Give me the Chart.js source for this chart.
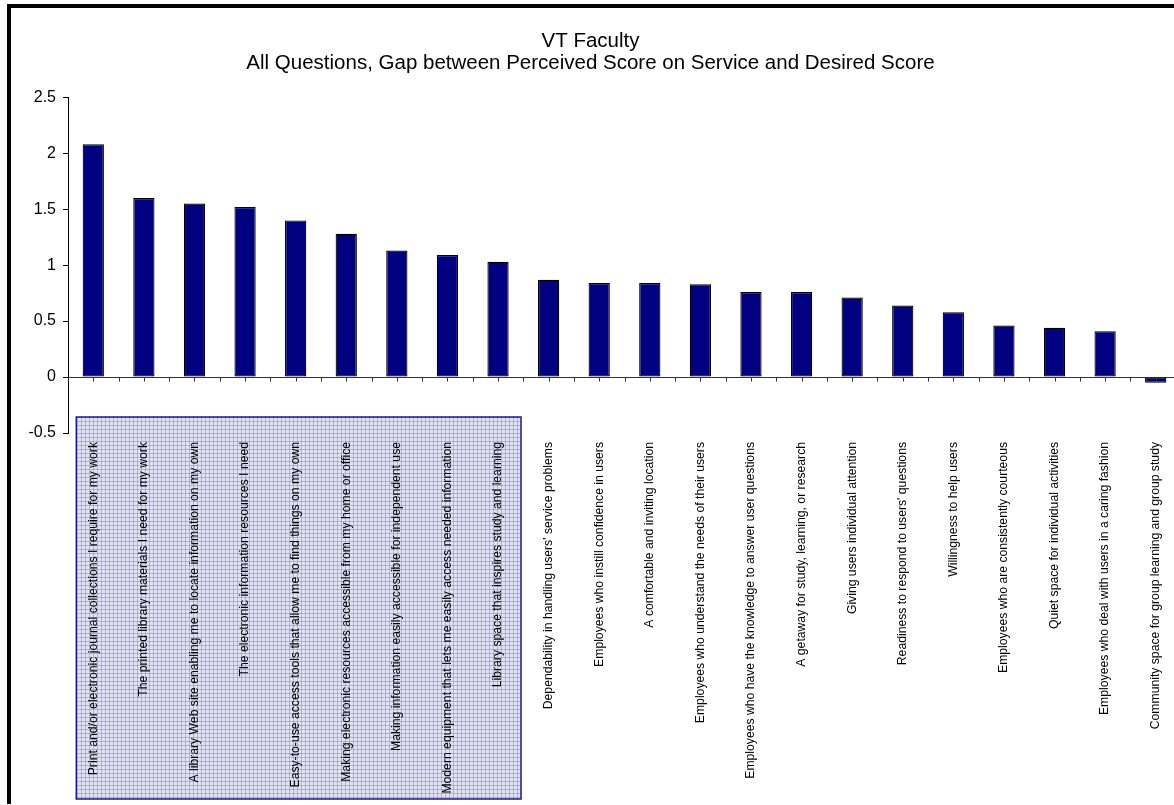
<!DOCTYPE html>
<html lang="en">
  <head>
    <meta charset="UTF-8" />
    <title>VT Faculty - Gap between Perceived and Desired Score</title>
    <script src="https://cdn.jsdelivr.net/npm/chart.js"></script>
    <style>
      html, body { margin: 0; padding: 0; overflow: hidden; background: #fff; }
      #wrap { position: relative; width: 1174px; height: 805px; overflow: hidden; }
      #chart { position: absolute; left: 0; top: 0; }
      #frame {
        position: absolute; left: 7px; top: 4px; width: 1200px; height: 796px;
        border-top: 4px solid #000; border-left: 4px solid #000;
      }
    </style>
  </head>
  <body>
    <div id="wrap">
      <canvas id="chart" width="1190" height="805"></canvas>
      <div id="frame"></div>
    </div>
    <script>
      const titleLines = [
        "VT Faculty",
        "All Questions, Gap between Perceived Score on Service and Desired Score",
      ];
      const questions = [
        "Print and/or electronic journal collections I require for my work",
        "The printed library materials I need for my work",
        "A library Web site enabling me to locate information on my own",
        "The electronic information resources I need",
        "Easy-to-use access tools that allow me to find things on my own",
        "Making electronic resources accessible from my home or office",
        "Making information easily accessible for independent use",
        "Modern equipment that lets me easily access needed information",
        "Library space that inspires study and learning",
        "Dependability in handling users' service problems",
        "Employees who instill confidence in users",
        "A comfortable and inviting location",
        "Employees who understand the needs of their users",
        "Employees who have the knowledge to answer user questions",
        "A getaway for study, learning, or research",
        "Giving users individual attention",
        "Readiness to respond to users' questions",
        "Willingness to help users",
        "Employees who are consistently courteous",
        "Quiet space for individual activities",
        "Employees who deal with users in a caring fashion",
        "Community space for group learning and group study",
      ];
      const gapScores = [
        2.08, 1.6, 1.55, 1.52, 1.4, 1.28, 1.13, 1.09, 1.03, 0.87, 0.84, 0.84,
        0.83, 0.76, 0.76, 0.71, 0.64, 0.58, 0.46, 0.44, 0.41, -0.05,
      ];
      // first 9 questions are highlighted with the hatched box
      const highlighted = 9;

      Chart.defaults.font.family = 'Arial, "Liberation Sans", sans-serif';
      Chart.defaults.color = "#000";

      // small lavender hatch tile for the highlight box
      function makeHatch(ctx) {
        const t = document.createElement("canvas");
        t.width = 4;
        t.height = 4;
        const c = t.getContext("2d");
        c.fillStyle = "#e2e2f7";
        c.fillRect(0, 0, 4, 4);
        c.fillStyle = "#b0b0ea";
        c.fillRect(0, 1, 4, 1);
        c.fillRect(1, 0, 1, 4);
        c.fillStyle = "#9696dc";
        c.fillRect(1, 1, 1, 1);
        return ctx.createPattern(t, "repeat");
      }

      const highlightBox = {
        id: "highlightBox",
        beforeDraw(chart) {
          const { ctx, scales, chartArea } = chart;
          const x = scales.x;
          const left = x.getPixelForValue(0) - 17;
          const right = x.getPixelForValue(highlighted - 1) + 23;
          const top = chartArea.bottom - 16;
          const bottom = chart.height - 6;
          ctx.save();
          ctx.fillStyle = makeHatch(ctx);
          ctx.fillRect(left, top, right - left, bottom - top);
          ctx.strokeStyle = "#1a1a8c";
          ctx.lineWidth = 1.5;
          ctx.strokeRect(left, top, right - left, bottom - top);
          ctx.restore();
        },
      };

      // tick marks hanging under the zero line
      const zeroTicks = {
        id: "zeroTicks",
        afterDatasetsDraw(chart) {
          const { ctx, scales } = chart;
          const x = scales.x;
          const y0 = Math.round(scales.y.getPixelForValue(0)) + 0.5;
          const step = x.getPixelForValue(1) - x.getPixelForValue(0);
          ctx.save();
          ctx.strokeStyle = "#333";
          ctx.lineWidth = 1;
          ctx.beginPath();
          for (let i = 0; i < questions.length; i++) {
            const cx = x.getPixelForValue(i);
            for (const px of [cx - step / 2, cx]) {
              const p = Math.round(px) + 0.5;
              ctx.moveTo(p, y0);
              ctx.lineTo(p, y0 + 4);
            }
          }
          ctx.stroke();
          ctx.restore();
        },
      };

      new Chart(document.getElementById("chart"), {
        type: "bar",
        data: {
          labels: questions,
          datasets: [
            {
              data: gapScores,
              backgroundColor: "#000080",
              borderColor: "#000",
              borderWidth: 1.2,
              borderSkipped: false,
              barPercentage: 0.42,
              categoryPercentage: 1,
            },
          ],
        },
        options: {
          responsive: false,
          animation: false,
          layout: { padding: { left: 0, right: 9, top: 0, bottom: 0 } },
          plugins: {
            legend: { display: false },
            tooltip: { enabled: false },
            title: {
              display: true,
              text: titleLines,
              color: "#000",
              font: { size: 20.5, weight: "normal", lineHeight: 1.08 },
              padding: { top: 30, bottom: 23 },
            },
          },
          scales: {
            x: {
              position: "bottom",
              grid: { display: false, drawTicks: false },
              border: { display: false },
              ticks: {
                autoSkip: false,
                minRotation: 90,
                maxRotation: 90,
                padding: 9,
                font: { size: 12.2 },
                color: "#000",
              },
              afterFit: (s) => {
                s.height = 372;
              },
            },
            y: {
              min: -0.5,
              max: 2.5,
              ticks: {
                stepSize: 0.5,
                padding: 7,
                font: { size: 16 },
                color: "#000",
                callback: (v) => String(Math.round(v * 10) / 10),
              },
              grid: {
                color: (c) => (c.tick && c.tick.value === 0 ? "#333" : "transparent"),
                tickColor: "#000",
                tickLength: 5,
                lineWidth: 1,
              },
              border: { color: "#000" },
              afterFit: (s) => {
                s.width = 68;
              },
            },
          },
        },
        plugins: [highlightBox, zeroTicks],
      });
    </script>
  </body>
</html>
